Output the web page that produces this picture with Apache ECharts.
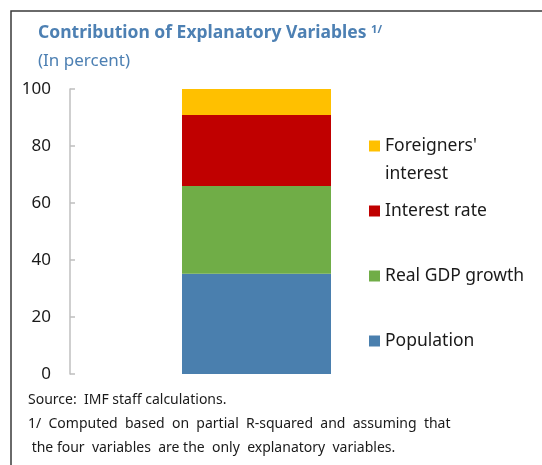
<!DOCTYPE html>
<html>
<head>
<meta charset="utf-8">
<script src="https://cdn.jsdelivr.net/npm/echarts@6/dist/echarts.min.js"></script>
<style>
  html, body { margin: 0; padding: 0; background: #fff; }
  #chart { width: 542px; height: 465px; }
</style>
</head>
<body>
<div id="chart"></div>
<script>
// data
const categories = [""];
const population = [35.2];
const realGdpGrowth = [30.8];
const interestRate = [24.9];
const foreignersInterest = [9.1];
const yTicks = [0, 20, 40, 60, 80, 100];

const FONT = "Noto Sans";
const AXIS_GREY = "#bfbfbf";
const TITLE_BLUE = "#4d80b3";

const chart = echarts.init(document.getElementById("chart"));

// 堆叠柱
function stackBar(name, data, color) {
  return {
    name: name,
    type: "bar",
    stack: "total",
    data: data,
    barWidth: 149,
    itemStyle: { color: color },
    emphasis: { disabled: true },
  };
}

const option = {
  animation: false,
  textStyle: { fontFamily: FONT },
  title: {
    left: 33,
    top: 19,
    itemGap: 10,
    text: "Contribution of Explanatory Variables {sup|1/}",
    textStyle: {
      fontFamily: FONT,
      fontSize: 17.5,
      fontWeight: "bold",
      color: TITLE_BLUE,
      rich: {
        sup: { fontSize: 11, color: TITLE_BLUE, verticalAlign: "top", padding: [0, 0, 8, 0] },
      },
    },
    subtext: "(In percent)",
    subtextStyle: { fontFamily: FONT, fontSize: 17, color: TITLE_BLUE },
  },
  legend: {
    orient: "vertical",
    left: 369,
    top: 136,
    padding: 0,
    itemWidth: 11,
    itemHeight: 11,
    itemGap: 45,
    icon: "rect",
    selectedMode: false,
    data: ["Foreigners' interest", "Interest rate", "Real GDP growth", "Population"],
    formatter: (n) => (n === "Foreigners' interest" ? "Foreigners'" : n),
    textStyle: { fontFamily: FONT, fontSize: 17.5, lineHeight: 20, color: "#1a1a1a" },
  },
  grid: { left: 70, right: 99, top: 89, bottom: 91, containLabel: false },
  xAxis: {
    type: "category",
    data: categories,
    axisLine: { show: false },
    axisTick: { show: false },
    axisLabel: { show: false },
  },
  yAxis: {
    type: "value",
    min: yTicks[0],
    max: yTicks[yTicks.length - 1],
    interval: 20,
    axisLine: { show: true, lineStyle: { color: AXIS_GREY, width: 1.5 } },
    axisTick: { show: true, inside: true, length: 5, lineStyle: { color: AXIS_GREY, width: 1.5 } },
    axisLabel: { margin: 19, fontFamily: FONT, fontSize: 17, color: "#1a1a1a" },
    splitLine: { show: false },
  },
  series: [
    stackBar("Population", population, "#4a7fae"),
    stackBar("Real GDP growth", realGdpGrowth, "#70ad47"),
    stackBar("Interest rate", interestRate, "#c00000"),
    stackBar("Foreigners' interest", foreignersInterest, "#ffc000"),
  ],
  graphic: [
    {
      type: "polyline",
      shape: { points: [[11, 470], [11, 11], [545, 11]] },
      style: { stroke: "#3a3a3a", lineWidth: 1.5, fill: null },
      silent: true,
    },
    {
      type: "text",
      left: 385,
      top: 165,
      style: { text: "interest", font: "17.5px " + FONT, fill: "#1a1a1a" },
    },
    {
      type: "text",
      left: 28,
      top: 388,
      style: {
        text: "Source:  IMF staff calculations.\n1/  Computed  based  on  partial  R-squared  and  assuming  that\n the four  variables  are the  only  explanatory  variables.",
        font: "14px " + FONT,
        lineHeight: 24,
        fill: "#1a1a1a",
      },
    },
  ],
};

chart.setOption(option);
</script>
</body>
</html>
